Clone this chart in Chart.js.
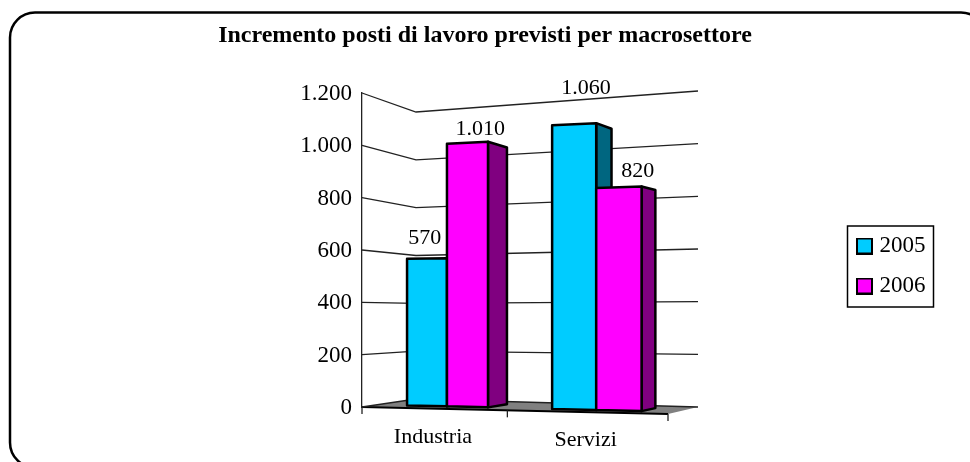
<!DOCTYPE html>
<html lang="it">
<head>
    <meta charset="UTF-8">
    <title>Incremento posti di lavoro</title>
    <script src="https://cdn.jsdelivr.net/npm/chart.js"></script>
    <style>
        body { margin: 0; background-color: white; }
        canvas { display: block; }
    </style>
</head>
<body>
    <canvas id="jobsChart" width="970" height="462"></canvas>

    <script>
        var categories = ["Industria", "Servizi"];
        var values2005 = [570, 1060];
        var values2006 = [1010, 820];
        var yTicks = [0, 200, 400, 600, 800, 1000, 1200];
        var chartTitle = "Incremento posti di lavoro previsti per macrosettore";

        var serif = "'Liberation Serif', 'Times New Roman', serif";

        // corners of the fake 3D box: front-left, front-right, back-left, back-right
        var floorCorners = [[362, 407], [668, 414], [416, 399], [698, 407]];
        var ceilCorners = [[362, 93], [668, 76], [416, 112], [698, 91]];
        var barDepth = [0.29, 0.71];
        var foreshorten = 0.905;

        // label position relative to the top of each bar, per dataset
        var labelShift = [
            [[-2, -20], [12, -36]],
            [[13, -14], [19, -16]]
        ];

        function mix(a, b, t) { return a + (b - a) * t; }

        // u along the category axis, v up the value axis, d into the depth, all 0..1
        function project(u, v, d) {
            var s = foreshorten * u / (1 + (foreshorten - 1) * u);
            function plane(c, i) {
                return mix(mix(c[0][i], c[1][i], s), mix(c[2][i], c[3][i], s), d);
            }
            return [
                mix(plane(floorCorners, 0), plane(ceilCorners, 0), v),
                mix(plane(floorCorners, 1), plane(ceilCorners, 1), v)
            ];
        }

        function path(ctx, pts) {
            ctx.beginPath();
            pts.forEach(function (p, i) {
                if (i == 0) ctx.moveTo(p[0], p[1]); else ctx.lineTo(p[0], p[1]);
            });
        }

        function thousands(n) {
            return String(n).replace(/\B(?=(\d{3})+$)/g, ".");
        }

        // legend swatch as a small canvas, so the text can sit closer than boxWidth allows
        function swatch(color) {
            var c = document.createElement("canvas");
            c.width = 17;
            c.height = 17;
            var g = c.getContext("2d");
            g.fillStyle = color;
            g.fillRect(0, 0, 17, 17);
            g.strokeStyle = "black";
            g.lineWidth = 2;
            g.strokeRect(1, 1, 15, 15);
            return c;
        }

        var box3d = {
            id: "box3d",
            afterLayout: function (chart) {
                // legend sits in its own framed box, not beside the plot
                var lg = chart.legend;
                lg.left = 844; lg.right = 945; lg.width = 101;
                lg.top = 212; lg.bottom = 320; lg.height = 108;
            },
            beforeDraw: function (chart) {
                var ctx = chart.ctx;
                ctx.save();
                ctx.strokeStyle = "black";
                ctx.lineWidth = 2.5;
                ctx.beginPath();
                ctx.roundRect(10, 12.5, 976, 455, 25);
                ctx.stroke();
                ctx.lineWidth = 1.5;
                ctx.strokeRect(847.5, 226, 86, 81);
                ctx.restore();
            },
            beforeDatasetsDraw: function (chart) {
                var ctx = chart.ctx;
                var area = chart.chartArea;
                var yScale = chart.scales.y;
                var xScale = chart.scales.x;
                ctx.save();

                // floor
                path(ctx, [project(0, 0, 0), project(1, 0, 0), project(1, 0, 1), project(0, 0, 1)]);
                ctx.closePath();
                ctx.fillStyle = "#808080";
                ctx.fill();
                ctx.strokeStyle = "black";
                ctx.lineWidth = 2;
                path(ctx, [project(0, 0, 0), project(1, 0, 0)]);
                ctx.stroke();

                // grid on left and back walls
                ctx.strokeStyle = "#222";
                ctx.lineWidth = 1.3;
                yTicks.forEach(function (t) {
                    var v = (area.bottom - yScale.getPixelForValue(t)) / area.height;
                    path(ctx, [project(0, v, 0), project(0, v, 1), project(1, v, 1)]);
                    ctx.stroke();
                });

                // category ticks and names
                ctx.fillStyle = "black";
                ctx.font = "22px " + serif;
                ctx.textAlign = "center";
                ctx.textBaseline = "middle";
                [0, 0.5, 1].forEach(function (u) {
                    var p = project(u, 0, 0);
                    path(ctx, [p, [p[0], p[1] + 7]]);
                    ctx.stroke();
                });
                categories.forEach(function (name, i) {
                    var u = (xScale.getPixelForValue(i) - area.left) / area.width;
                    var p = project(u, 0, 0);
                    ctx.fillText(name, p[0], p[1] + 28.5);
                });

                // bars, left to right so nearer faces cover the ones behind
                var labels = [];
                categories.forEach(function (name, i) {
                    chart.data.datasets.forEach(function (ds, k) {
                        var bar = chart.getDatasetMeta(k).data[i];
                        var u0 = (bar.x - bar.width / 2 - area.left) / area.width;
                        var u1 = (bar.x + bar.width / 2 - area.left) / area.width;
                        var v = (area.bottom - bar.y) / area.height;
                        ctx.lineWidth = 2.5;
                        ctx.lineJoin = "round";
                        ctx.strokeStyle = "black";

                        path(ctx, [project(u1, 0, barDepth[0]), project(u1, v, barDepth[0]),
                                   project(u1, v, barDepth[1]), project(u1, 0, barDepth[1])]);
                        ctx.closePath();
                        ctx.fillStyle = ds.sideColor;
                        ctx.fill();
                        ctx.stroke();

                        path(ctx, [project(u0, 0, barDepth[0]), project(u0, v, barDepth[0]),
                                   project(u1, v, barDepth[0]), project(u1, 0, barDepth[0])]);
                        ctx.closePath();
                        ctx.fillStyle = ds.backgroundColor;
                        ctx.fill();
                        ctx.stroke();

                        var top = project((u0 + u1) / 2, v, barDepth[0]);
                        labels.push([thousands(ds.data[i]), top[0] + labelShift[k][i][0], top[1] + labelShift[k][i][1]]);
                    });
                });

                ctx.fillStyle = "black";
                ctx.font = "22px " + serif;
                labels.forEach(function (l) { ctx.fillText(l[0], l[1], l[2]); });

                ctx.restore();
                return false;
            }
        };

        var jobsChart = new Chart(document.getElementById("jobsChart"), {
            type: "bar",
            data: {
                labels: categories,
                datasets: [
                    { label: "2005", data: values2005, backgroundColor: "#00CCFF", sideColor: "#006680", pointStyle: swatch("#00CCFF") },
                    { label: "2006", data: values2006, backgroundColor: "#FF00FF", sideColor: "#800080", pointStyle: swatch("#FF00FF") }
                ]
            },
            options: {
                responsive: false,
                animation: false,
                categoryPercentage: 0.57,
                barPercentage: 1,
                layout: { padding: { bottom: 55 } },
                plugins: {
                    title: {
                        display: true,
                        text: chartTitle,
                        color: "black",
                        font: { family: serif, size: 24, weight: "bold" },
                        padding: { top: 21, bottom: 43.2 }
                    },
                    legend: {
                        position: "right",
                        labels: {
                            color: "black",
                            font: { family: serif, size: 23 },
                            usePointStyle: true,
                            pointStyleWidth: 7,
                            boxHeight: 17,
                            padding: 17
                        }
                    },
                    tooltip: { enabled: false }
                },
                scales: {
                    x: { display: false },
                    y: {
                        min: 0,
                        max: 1200,
                        afterFit: function (scale) { scale.width = 362; },
                        afterBuildTicks: function (scale) {
                            scale.ticks = yTicks.map(function (t) { return { value: t }; });
                        },
                        border: { color: "#222", width: 1.3 },
                        grid: { drawOnChartArea: false, drawTicks: false },
                        ticks: {
                            color: "black",
                            padding: 10,
                            labelOffset: 1,
                            font: { family: serif, size: 23 },
                            callback: function (v) { return thousands(v); }
                        }
                    }
                }
            },
            plugins: [box3d]
        });
    </script>
</body>
</html>
